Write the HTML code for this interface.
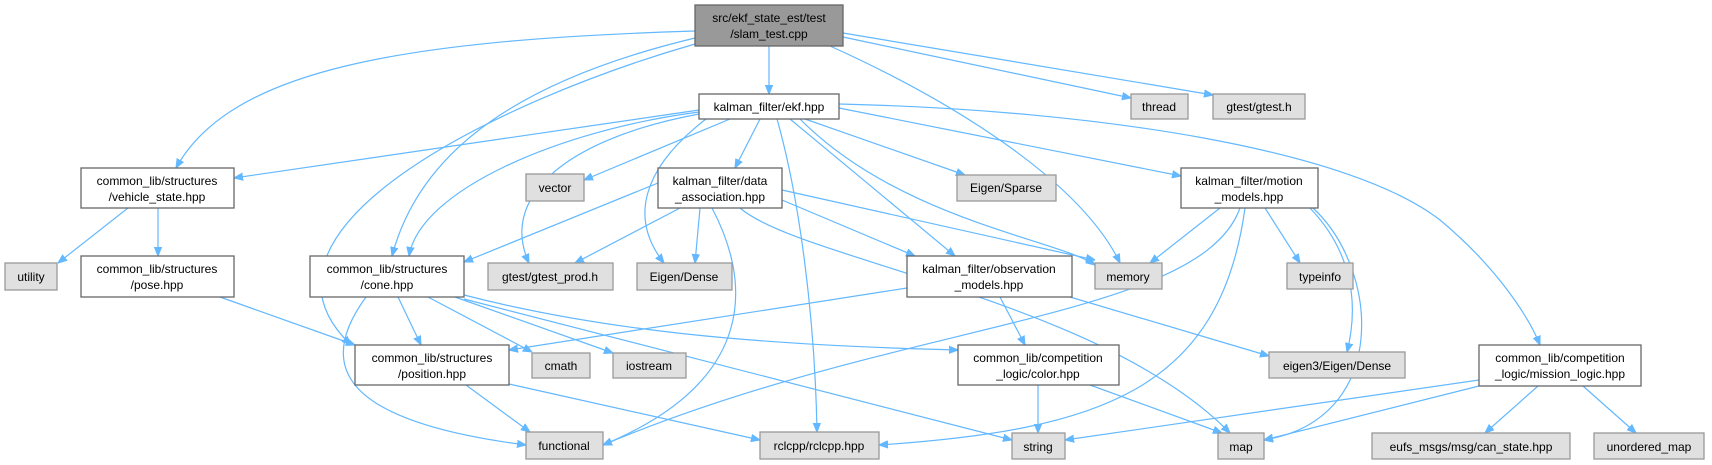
<!DOCTYPE html>
<html><head><meta charset="utf-8"><style>
html,body{margin:0;padding:0;background:#fff;}
svg{display:block;}
text{font-family:"Liberation Sans",Helvetica,sans-serif;font-size:12px;fill:#000;text-anchor:middle;}
.n rect{fill:#fff;stroke:#666;stroke-width:1.3;}
.g rect{fill:#e0e0e0;stroke:#999;stroke-width:1.3;}
path{fill:none;stroke:#63b8ff;stroke-width:1.2;}
</style></head><body>
<svg width="1712" height="465" viewBox="0 0 1712 465" xmlns="http://www.w3.org/2000/svg">
<defs><marker id="a" viewBox="0 0 10 10" refX="10" refY="5" markerWidth="9" markerHeight="9" markerUnits="userSpaceOnUse" orient="auto"><path d="M0,1 L10,5 L0,9 z" style="fill:#63b8ff;stroke:#63b8ff"/></marker></defs>
<g marker-end="url(#a)">
<!-- slam_test -->
<path d="M769,46 L769,94"/>
<path d="M695,31 C400,40 230,70 176,168"/>
<path d="M695,38 C520,80 420,150 392,256"/>
<path d="M695,44 C500,100 230,230 351,345"/>
<path d="M830,46 C950,100 1080,180 1120,263"/>
<path d="M843,37 L1131,98"/>
<path d="M843,33 L1213,95"/>
<!-- ekf -->
<path d="M699,110 L234,178"/>
<path d="M699,112 C560,130 420,190 409,256"/>
<path d="M699,114 C560,140 500,200 529,263"/>
<path d="M730,119 L584,180"/>
<path d="M760,119 L735,168"/>
<path d="M706,119 C640,170 630,220 664,263"/>
<path d="M777,119 C800,200 815,320 817,432"/>
<path d="M790,119 L955,256"/>
<path d="M800,119 C900,220 1060,240 1095,265"/>
<path d="M805,119 L965,175"/>
<path d="M839,108 L1181,176"/>
<path d="M839,104 C1100,110 1350,150 1440,220 C1500,270 1530,320 1540,345"/>
<!-- data_association -->
<path d="M658,183 L464,262"/>
<path d="M680,208 L575,263"/>
<path d="M700,208 L695,263"/>
<path d="M712,208 C750,280 760,380 603,445"/>
<path d="M782,200 L915,256"/>
<path d="M782,190 L1095,260"/>
<path d="M740,208 C800,260 1100,300 1230,433"/>
<!-- motion_models -->
<path d="M1220,208 L1150,263"/>
<path d="M1265,208 L1300,263"/>
<path d="M1310,208 C1350,250 1360,300 1347,352"/>
<path d="M1313,208 C1380,270 1390,420 1264,440"/>
<path d="M1240,208 C1200,320 900,320 603,445"/>
<path d="M1245,208 C1220,390 1100,430 879,445"/>
<!-- vehicle_state -->
<path d="M128,208 L58,263"/>
<path d="M158,208 L158,256"/>
<path d="M220,297 L355,345"/>
<!-- cone -->
<path d="M398,297 L421,345"/>
<path d="M366,297 C320,360 330,420 526,445"/>
<path d="M428,297 L532,352"/>
<path d="M455,297 L613,353"/>
<path d="M464,295 C600,330 750,345 958,350"/>
<path d="M464,299 L1012,440"/>
<!-- observation -->
<path d="M907,288 L509,350"/>
<path d="M1000,297 L1025,345"/>
<path d="M1070,297 L1269,356"/>
<!-- position -->
<path d="M466,385 L530,432"/>
<path d="M509,384 L760,440"/>
<!-- color -->
<path d="M1038,385 L1038,433"/>
<path d="M1090,385 L1222,433"/>
<!-- mission -->
<path d="M1479,380 L1065,440"/>
<path d="M1479,386 L1264,440"/>
<path d="M1538,386 L1485,433"/>
<path d="M1583,386 L1636,433"/>
</g>
<!-- nodes -->
<g><rect x="695" y="5" width="148" height="41" style="fill:#999;stroke:#666;stroke-width:1.3"/><text x="769" y="22">src/ekf_state_est/test</text><text x="769" y="38">/slam_test.cpp</text></g>
<g class="n"><rect x="699" y="94" width="140" height="25"/><text x="769" y="111">kalman_filter/ekf.hpp</text></g>
<g class="n"><rect x="81" y="168" width="153" height="40"/><text x="157" y="185">common_lib/structures</text><text x="157" y="201">/vehicle_state.hpp</text></g>
<g class="g"><rect x="526" y="174" width="58" height="27"/><text x="555" y="192">vector</text></g>
<g class="n"><rect x="658" y="168" width="124" height="40"/><text x="720" y="185">kalman_filter/data</text><text x="720" y="201">_association.hpp</text></g>
<g class="g"><rect x="1131" y="94" width="57" height="25"/><text x="1159" y="111">thread</text></g>
<g class="g"><rect x="1213" y="94" width="92" height="25"/><text x="1259" y="111">gtest/gtest.h</text></g>
<g class="g"><rect x="957" y="175" width="99" height="26"/><text x="1006" y="192">Eigen/Sparse</text></g>
<g class="n"><rect x="1181" y="168" width="137" height="40"/><text x="1249" y="185">kalman_filter/motion</text><text x="1249" y="201">_models.hpp</text></g>
<g class="g"><rect x="5" y="263" width="52" height="27"/><text x="31" y="281">utility</text></g>
<g class="n"><rect x="81" y="256" width="153" height="41"/><text x="157" y="273">common_lib/structures</text><text x="157" y="289">/pose.hpp</text></g>
<g class="n"><rect x="310" y="256" width="154" height="41"/><text x="387" y="273">common_lib/structures</text><text x="387" y="289">/cone.hpp</text></g>
<g class="g"><rect x="488" y="263" width="125" height="27"/><text x="550" y="281">gtest/gtest_prod.h</text></g>
<g class="g"><rect x="637" y="263" width="95" height="27"/><text x="684" y="281">Eigen/Dense</text></g>
<g class="n"><rect x="907" y="256" width="165" height="41"/><text x="989" y="273">kalman_filter/observation</text><text x="989" y="289">_models.hpp</text></g>
<g class="g"><rect x="1095" y="263" width="67" height="26"/><text x="1128" y="281">memory</text></g>
<g class="g"><rect x="1287" y="263" width="66" height="26"/><text x="1320" y="281">typeinfo</text></g>
<g class="n"><rect x="355" y="345" width="154" height="40"/><text x="432" y="362">common_lib/structures</text><text x="432" y="378">/position.hpp</text></g>
<g class="g"><rect x="532" y="353" width="58" height="25"/><text x="561" y="370">cmath</text></g>
<g class="g"><rect x="613" y="353" width="73" height="25"/><text x="649" y="370">iostream</text></g>
<g class="n"><rect x="958" y="345" width="161" height="40"/><text x="1038" y="362">common_lib/competition</text><text x="1038" y="378">_logic/color.hpp</text></g>
<g class="g"><rect x="1269" y="352" width="136" height="26"/><text x="1337" y="370">eigen3/Eigen/Dense</text></g>
<g class="n"><rect x="1479" y="345" width="162" height="41"/><text x="1560" y="362">common_lib/competition</text><text x="1560" y="378">_logic/mission_logic.hpp</text></g>
<g class="g"><rect x="526" y="432" width="77" height="27"/><text x="564" y="450">functional</text></g>
<g class="g"><rect x="760" y="432" width="119" height="27"/><text x="819" y="450">rclcpp/rclcpp.hpp</text></g>
<g class="g"><rect x="1012" y="433" width="53" height="26"/><text x="1038" y="451">string</text></g>
<g class="g"><rect x="1218" y="433" width="46" height="26"/><text x="1241" y="451">map</text></g>
<g class="g"><rect x="1372" y="433" width="198" height="26"/><text x="1471" y="451">eufs_msgs/msg/can_state.hpp</text></g>
<g class="g"><rect x="1594" y="433" width="110" height="26"/><text x="1649" y="451">unordered_map</text></g>
</svg>
</body></html>
